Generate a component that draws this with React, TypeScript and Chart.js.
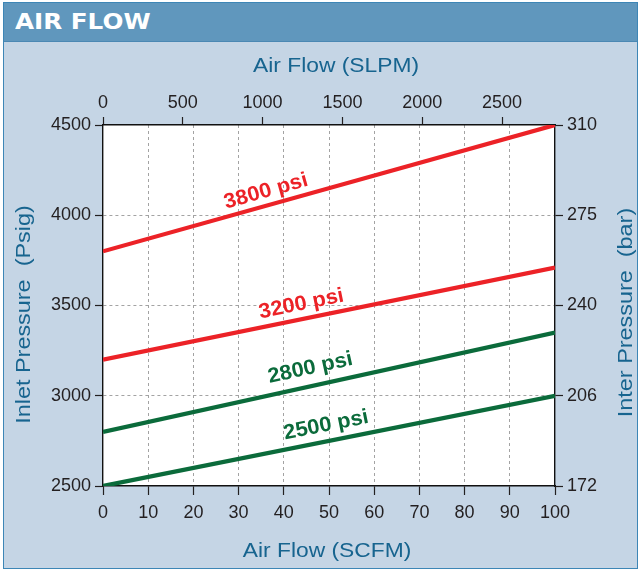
import React, { useEffect, useRef } from "react";
import { Chart, registerables } from "chart.js";

Chart.register(...registerables);

// ---- data ----
const scfmRange = [0, 100];
const line3800 = [3800, 4500];
const line3200 = [3200, 3710];
const line2800 = [2800, 3350];
const line2500 = [2500, 3000];
const seriesLabels = ["3800 psi", "3200 psi", "2800 psi", "2500 psi"];

const scfmTicks = [0, 10, 20, 30, 40, 50, 60, 70, 80, 90, 100];
const slpmTicks = [0, 500, 1000, 1500, 2000, 2500];
const slpmMax = 2832; // 100 SCFM expressed in SLPM
const psiTicks = [2500, 3000, 3500, 4000, 4500];
const barTickLabels = ["172", "206", "240", "275", "310"];

// ---- styling / annotation placement ----
const RED = "#ec2227";
const GREEN = "#0b6b3b";
const TITLE_COLOR = "#17648f";
const TICK_COLOR = "#231f20";
const GRID_COLOR = "#a3a3a3";
const seriesColors = [RED, RED, GREEN, GREEN];
const labelPlacement = [
  { x: 27.7, gap: 8 },
  { x: 35.2, gap: 9 },
  { x: 37.4, gap: 12 },
  { x: 40.7, gap: 10 },
];

const FONT = "'Liberation Sans', Arial, Helvetica, sans-serif";
const TICK_FONT = { family: FONT, size: 18 };

function drawStretched(
  ctx: CanvasRenderingContext2D,
  text: string,
  x: number,
  y: number,
  rot: number,
  font: string,
  color: string,
  stretch: number
) {
  ctx.save();
  ctx.translate(x, y);
  ctx.rotate(rot);
  ctx.scale(stretch, 1);
  ctx.font = font;
  ctx.fillStyle = color;
  ctx.textAlign = "center";
  ctx.textBaseline = "middle";
  ctx.fillText(text, 0, 0);
  ctx.restore();
}

const plotBgPlugin = {
  id: "plotBg",
  beforeDraw(chart: any) {
    const { ctx, chartArea } = chart;
    ctx.save();
    ctx.fillStyle = "#ffffff";
    ctx.fillRect(
      chartArea.left,
      chartArea.top,
      chartArea.right - chartArea.left,
      chartArea.bottom - chartArea.top
    );
    ctx.restore();
  },
};

const axisTitlePlugin = {
  id: "axisTitles",
  afterDraw(chart: any) {
    const { ctx, chartArea } = chart;
    const f = `400 19.5px ${FONT}`;
    const cx = (chartArea.left + chartArea.right) / 2;
    const cy = (chartArea.top + chartArea.bottom) / 2;
    drawStretched(ctx, "Air Flow (SLPM)", cx + 7, chartArea.top - 58, 0, f, TITLE_COLOR, 1.17);
    drawStretched(ctx, "Air Flow (SCFM)", cx - 2, chartArea.bottom + 66, 0, f, TITLE_COLOR, 1.17);
    drawStretched(ctx, "Inlet Pressure  (Psig)", chartArea.left - 78, cy + 9, -Math.PI / 2, f, TITLE_COLOR, 1.2);
    drawStretched(ctx, "Inter Pressure  (bar)", chartArea.right + 72, cy + 7, -Math.PI / 2, f, TITLE_COLOR, 1.2);
  },
};

const lineLabelPlugin = {
  id: "lineLabels",
  afterDatasetsDraw(chart: any) {
    const { ctx } = chart;
    const xs = chart.scales.x;
    const ys = chart.scales.y;
    chart.data.datasets.forEach((ds: any, i: number) => {
      const p0 = ds.data[0];
      const p1 = ds.data[ds.data.length - 1];
      const ax = xs.getPixelForValue(p0.x);
      const ay = ys.getPixelForValue(p0.y);
      const bx = xs.getPixelForValue(p1.x);
      const by = ys.getPixelForValue(p1.y);
      const ang = Math.atan2(by - ay, bx - ax);
      const place = labelPlacement[i];
      const t = (place.x - p0.x) / (p1.x - p0.x);
      const vy = p0.y + (p1.y - p0.y) * t;
      const px = xs.getPixelForValue(place.x);
      const py = ys.getPixelForValue(vy);
      ctx.save();
      ctx.translate(px, py);
      ctx.rotate(ang);
      ctx.scale(1.04, 1);
      ctx.font = `bold 21px ${FONT}`;
      ctx.fillStyle = seriesColors[i];
      ctx.textAlign = "left";
      ctx.textBaseline = "alphabetic";
      ctx.fillText(ds.label, 0, -place.gap);
      ctx.restore();
    });
  },
};

function gridColor(c: any) {
  const v = c.tick ? c.tick.value : null;
  const s = c.scale;
  if (v === null || v === s.min || v === s.max) return "rgba(0,0,0,0)";
  return GRID_COLOR;
}

const plainLabel = (v: any) => String(v);

export default function App() {
  const ref = useRef<HTMLCanvasElement | null>(null);

  useEffect(() => {
    if (!ref.current) return;
    const series = [line3800, line3200, line2800, line2500];
    const chart = new Chart(ref.current, {
      type: "line",
      data: {
        datasets: series.map((s, i) => ({
          label: seriesLabels[i],
          data: [
            { x: scfmRange[0], y: s[0] },
            { x: scfmRange[1], y: s[1] },
          ],
          borderColor: seriesColors[i],
          borderWidth: 4.2,
          pointRadius: 0,
          fill: false,
          tension: 0,
          borderCapStyle: "butt",
        })),
      },
      options: {
        responsive: false,
        animation: false,
        devicePixelRatio: 1,
        layout: { padding: 0 },
        plugins: {
          legend: { display: false },
          tooltip: { enabled: false },
          title: { display: false },
        },
        scales: {
          x: {
            type: "linear",
            position: "bottom",
            min: scfmRange[0],
            max: scfmRange[1],
            afterBuildTicks: (s: any) => {
              s.ticks = scfmTicks.map((v) => ({ value: v }));
            },
            afterFit: (s: any) => {
              s.height = 85;
            },
            ticks: {
              color: TICK_COLOR,
              font: TICK_FONT,
              padding: 7,
              maxRotation: 0,
              autoSkip: false,
              callback: plainLabel,
            },
            grid: {
              color: gridColor,
              lineWidth: 1,
              tickColor: TICK_COLOR,
              tickLength: 9,
              tickWidth: 1.2,
              tickBorderDash: [],
            },
            border: { display: true, color: "#111", width: 1.4, dash: [3, 3] },
          },
          x2: {
            type: "linear",
            position: "top",
            min: 0,
            max: slpmMax,
            afterBuildTicks: (s: any) => {
              s.ticks = slpmTicks.map((v) => ({ value: v }));
            },
            afterFit: (s: any) => {
              s.height = 125;
            },
            ticks: {
              color: TICK_COLOR,
              font: TICK_FONT,
              padding: 3,
              maxRotation: 0,
              autoSkip: false,
              callback: plainLabel,
            },
            grid: {
              drawOnChartArea: false,
              color: TICK_COLOR,
              tickColor: TICK_COLOR,
              tickLength: 8,
              tickWidth: 1.2,
            },
            border: { display: true, color: "#111", width: 1.4 },
          },
          y: {
            type: "linear",
            position: "left",
            min: psiTicks[0],
            max: psiTicks[psiTicks.length - 1],
            afterBuildTicks: (s: any) => {
              s.ticks = psiTicks.map((v) => ({ value: v }));
            },
            afterFit: (s: any) => {
              s.width = 103;
            },
            ticks: {
              color: TICK_COLOR,
              font: TICK_FONT,
              padding: 4,
              autoSkip: false,
              callback: plainLabel,
            },
            grid: {
              color: gridColor,
              lineWidth: 1,
              tickColor: TICK_COLOR,
              tickLength: 8,
              tickWidth: 1.2,
              tickBorderDash: [],
            },
            border: { display: true, color: "#111", width: 1.4, dash: [3, 3] },
          },
          y2: {
            type: "linear",
            position: "right",
            min: psiTicks[0],
            max: psiTicks[psiTicks.length - 1],
            afterBuildTicks: (s: any) => {
              s.ticks = psiTicks.map((v) => ({ value: v }));
            },
            afterFit: (s: any) => {
              s.width = 87;
            },
            ticks: {
              color: TICK_COLOR,
              font: TICK_FONT,
              padding: 4,
              autoSkip: false,
              callback: (_v: any, idx: number) => barTickLabels[idx],
            },
            grid: {
              drawOnChartArea: false,
              color: TICK_COLOR,
              tickColor: TICK_COLOR,
              tickLength: 8,
              tickWidth: 1.2,
            },
            border: { display: true, color: "#111", width: 1.4 },
          },
        },
      },
      plugins: [plotBgPlugin, axisTitlePlugin, lineLabelPlugin],
    } as any);
    return () => chart.destroy();
  }, []);

  return (
    <div
      style={{
        position: "absolute",
        left: 0,
        top: 0,
        width: 642,
        height: 571,
        background: "#ffffff",
        overflow: "hidden",
      }}
    >
      <div
        style={{
          position: "absolute",
          left: 3,
          top: 2,
          width: 633,
          height: 565,
          border: "1.5px solid #3d86b6",
          background: "#c5d5e5",
        }}
      >
        <div
          style={{
            height: 38,
            background: "#6097bd",
            borderBottom: "1px solid #4b88b3",
            overflow: "hidden",
          }}
        >
          <span
            style={{
              display: "inline-block",
              marginLeft: 11,
              transform: "scaleX(1.12)",
              transformOrigin: "left center",
              fontFamily: "'DejaVu Sans', Arial, sans-serif",
              fontWeight: 700,
              fontSize: 22,
              lineHeight: "38px",
              color: "#ffffff",
            }}
          >
            AIR FLOW
          </span>
        </div>
      </div>
      <canvas
        ref={ref}
        width={642}
        height={571}
        style={{ position: "absolute", left: 0, top: 0, width: 642, height: 571 }}
      />
    </div>
  );
}
